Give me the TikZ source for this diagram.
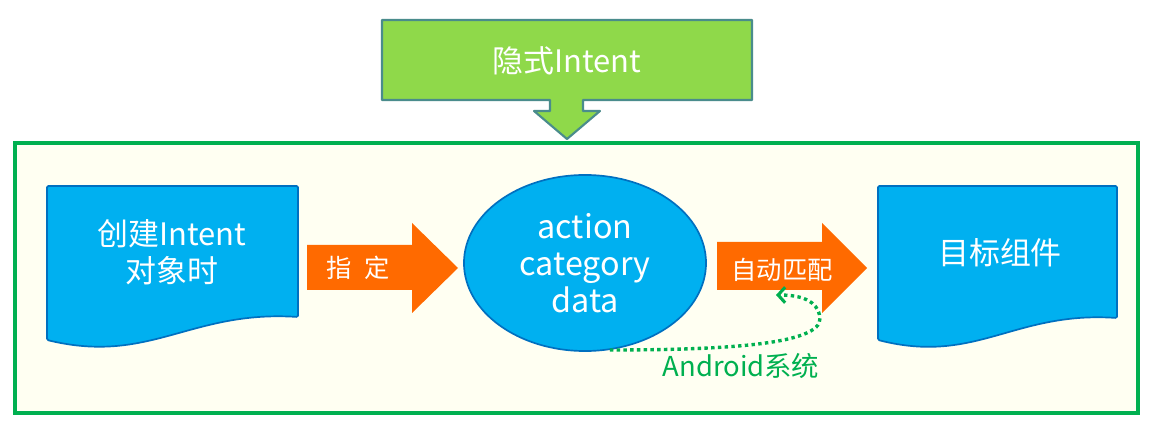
\documentclass[tikz,border=0pt]{standalone}
\usepackage{fontspec}
\setmainfont{Noto Sans CJK SC}
\usetikzlibrary{arrows.meta,%
                shapes.geometric}
\definecolor{HeadGreen}{HTML}{8FD94A}
\definecolor{HeadEdge}{HTML}{4A8C8C}
\definecolor{FrameGreen}{HTML}{00B050}
\definecolor{PaleCream}{HTML}{FFFFF2}
\definecolor{SkyBlue}{HTML}{00B0F0}
\definecolor{DeepBlue}{HTML}{0070C0}
\definecolor{ArrowOrange}{HTML}{FF6A00}

\begin{document}
\begin{tikzpicture}[x = 0.025cm, y = -0.025cm]
  \tikzstyle{every node} = [inner sep = 0,
                            text = white,
                            align = center]
  \tikzstyle{BlueShape} = [fill = SkyBlue, draw = DeepBlue,
                           line width = 1.2pt, rounded corners = 1pt]
  \tikzstyle{OrangeArrow} = [fill = ArrowOrange]
  \tikzstyle{BigText} = [font = \fontsize{22}{26}\selectfont]
  \tikzstyle{SmallText} = [font = \fontsize{18}{22}\selectfont]
\tikzset{SysEdge/.style={draw = FrameGreen, line width = 2.4pt,
                         dash pattern = on 2.4pt off 2.4pt,
                         -{Straight Barb[length=5pt, width=11pt, line width=2.2pt]}}}

\fill[white] (0,0) rectangle (1160,432);
\useasboundingbox (0,0) rectangle (1160,432);

% frame
\draw[FrameGreen, line width = 2.2pt, fill = PaleCream] (15,143) rectangle (1138,413);

% header with arrow
\draw[fill = HeadGreen, draw = HeadEdge, line width = 1.5pt, line join = round]
  (382,20) -- (752,20) -- (752,100) -- (583,100) -- (583,111) -- (600,111)
  -- (567,139) -- (534,111) -- (550,111) -- (550,100) -- (382,100) -- cycle;
\node[BigText] (hdr) at (567,61) {隐式Intent};

% documents
\draw[BlueShape] (47,186) -- (298,186) -- (298,317)
  .. controls (190,310) and (150,365) .. (47,340) -- cycle;
\node[BigText] (src) at (172,252) {创建Intent\\对象时};

\draw[BlueShape] (878,186) -- (1117,186) -- (1117,318)
  .. controls (1014,311) and (976,365) .. (878,340) -- cycle;
\node[BigText] (dst) at (1000,253) {目标组件};

% ellipse
\node[ellipse, BlueShape, minimum width = 6.05cm, minimum height = 4.4cm,
      font = \fontsize{23}{26.5}\selectfont] (acd) at (585,263) {action\\category\\data};

% block arrows
\fill[OrangeArrow] (307,245) -- (412,245) -- (412,223) -- (458,268)
  -- (412,313) -- (412,290) -- (307,290) -- cycle;
\node[SmallText] (mid1) at (358,268) {指\hspace{0.5em}定};

\fill[OrangeArrow] (717,242) -- (822,242) -- (822,223) -- (867,268)
  -- (822,313) -- (822,290) -- (717,290) -- cycle;
\node[SmallText] (mid2) at (782,270) {自动匹配};

% android system
\coordinate (tip) at (776,295);
\draw[SysEdge] (acd.-74) .. controls (720,350) and (822,345) .. (820,318)
  .. controls (818,300) and (800,295) .. (tip);
\node[font = \fontsize{19.5}{23}\selectfont, text = FrameGreen] (sys) at (741,366) {Android系统};

\end{tikzpicture}
\end{document}
